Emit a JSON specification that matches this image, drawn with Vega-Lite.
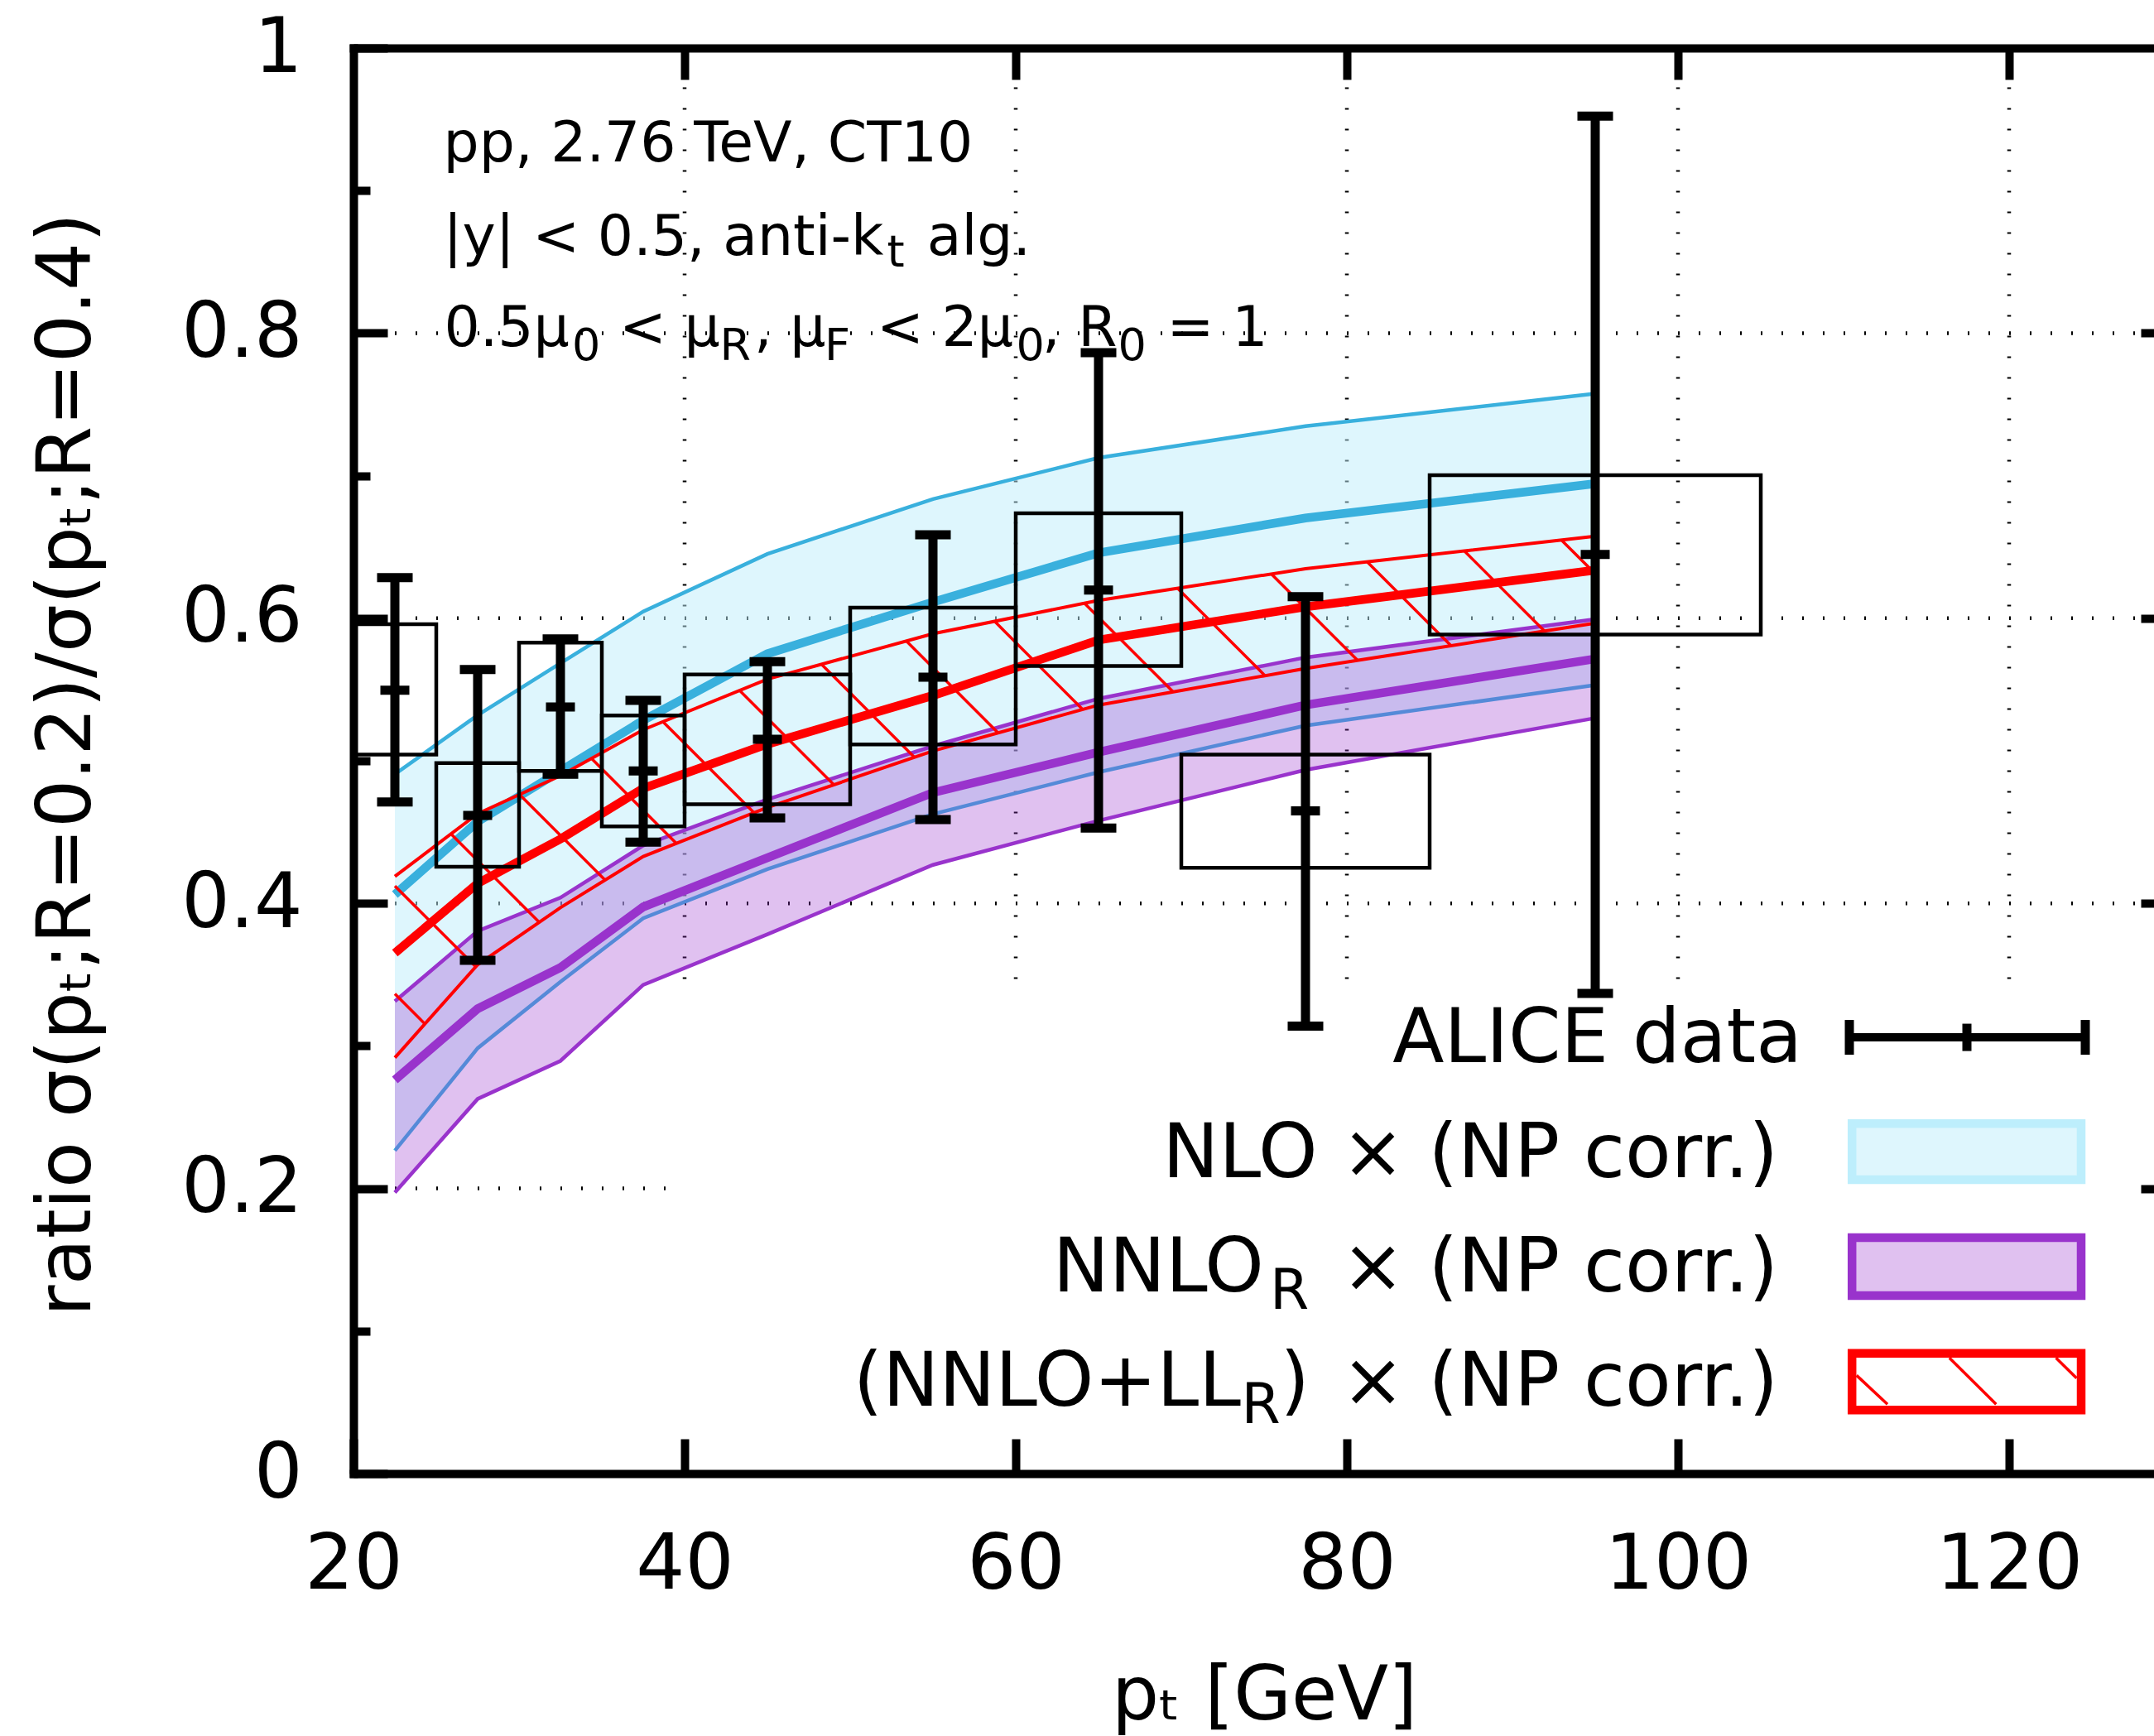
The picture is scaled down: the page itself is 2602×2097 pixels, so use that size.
{
  "$schema": "https://vega.github.io/schema/vega-lite/v6.json",
  "autosize": {"type": "none"},
  "padding": {"left": 427, "top": 58, "right": 0, "bottom": 317},
  "width": 2175,
  "height": 1722,
  "background": "white",
  "config": {
    "font": "DejaVu Sans",
    "view": {"stroke": null},
    "axis": {"grid": false, "labelFont": "DejaVu Sans", "titleFont": "DejaVu Sans", "labelColor": "black", "titleColor": "black", "titleFontWeight": "normal", "domainColor": "black", "tickColor": "black"}
  },
  "resolve": {"axis": {"x": "independent", "y": "independent"}},
  "datasets": {
    "theory": [
      {"m": "NLO", "x": 22.5, "hi": 0.4906, "c": 0.4062, "lo": 0.2266},
      {"m": "NLO", "x": 27.5, "hi": 0.532, "c": 0.4573, "lo": 0.2984},
      {"m": "NLO", "x": 32.5, "hi": 0.5684, "c": 0.4929, "lo": 0.345},
      {"m": "NLO", "x": 37.5, "hi": 0.6047, "c": 0.5284, "lo": 0.3895},
      {"m": "NLO", "x": 45, "hi": 0.6451, "c": 0.5751, "lo": 0.424},
      {"m": "NLO", "x": 55, "hi": 0.6836, "c": 0.6114, "lo": 0.4626},
      {"m": "NLO", "x": 65, "hi": 0.7125, "c": 0.6458, "lo": 0.492},
      {"m": "NLO", "x": 77.5, "hi": 0.7347, "c": 0.6703, "lo": 0.5247},
      {"m": "NLO", "x": 95, "hi": 0.7575, "c": 0.6944, "lo": 0.5531},
      {"m": "NNLO", "x": 22.5, "hi": 0.3313, "c": 0.2761, "lo": 0.1972},
      {"m": "NNLO", "x": 27.5, "hi": 0.3806, "c": 0.3261, "lo": 0.2628},
      {"m": "NNLO", "x": 32.5, "hi": 0.404, "c": 0.355, "lo": 0.2895},
      {"m": "NNLO", "x": 37.5, "hi": 0.4406, "c": 0.3975, "lo": 0.3428},
      {"m": "NNLO", "x": 45, "hi": 0.4729, "c": 0.432, "lo": 0.3783},
      {"m": "NNLO", "x": 55, "hi": 0.5103, "c": 0.4777, "lo": 0.427},
      {"m": "NNLO", "x": 65, "hi": 0.5436, "c": 0.506, "lo": 0.458},
      {"m": "NNLO", "x": 77.5, "hi": 0.5725, "c": 0.5391, "lo": 0.4936},
      {"m": "NNLO", "x": 95, "hi": 0.5993, "c": 0.5715, "lo": 0.53},
      {"m": "LL", "x": 22.5, "hi": 0.4189, "c": 0.3651, "lo": 0.2917},
      {"m": "LL", "x": 27.5, "hi": 0.4629, "c": 0.414, "lo": 0.357},
      {"m": "LL", "x": 32.5, "hi": 0.4895, "c": 0.4451, "lo": 0.397},
      {"m": "LL", "x": 37.5, "hi": 0.5218, "c": 0.4807, "lo": 0.4329},
      {"m": "LL", "x": 45, "hi": 0.5573, "c": 0.5117, "lo": 0.4673},
      {"m": "LL", "x": 55, "hi": 0.5891, "c": 0.5458, "lo": 0.5069},
      {"m": "LL", "x": 65, "hi": 0.6125, "c": 0.5847, "lo": 0.5391},
      {"m": "LL", "x": 77.5, "hi": 0.6347, "c": 0.608, "lo": 0.5647},
      {"m": "LL", "x": 95, "hi": 0.6575, "c": 0.6337, "lo": 0.5966}
    ],
    "alice": [
      {"x": 22.5, "xlo": 20, "xhi": 25, "y": 0.5495, "slo": 0.4711, "shi": 0.6285, "blo": 0.5044, "bhi": 0.5958},
      {"x": 27.5, "xlo": 25, "xhi": 30, "y": 0.4617, "slo": 0.36, "shi": 0.564, "blo": 0.4257, "bhi": 0.4984},
      {"x": 32.5, "xlo": 30, "xhi": 35, "y": 0.5378, "slo": 0.4906, "shi": 0.5855, "blo": 0.4929, "bhi": 0.5829},
      {"x": 37.5, "xlo": 35, "xhi": 40, "y": 0.4929, "slo": 0.4429, "shi": 0.5424, "blo": 0.454, "bhi": 0.5318},
      {"x": 45, "xlo": 40, "xhi": 50, "y": 0.5151, "slo": 0.46, "shi": 0.5695, "blo": 0.4695, "bhi": 0.5606},
      {"x": 55, "xlo": 50, "xhi": 60, "y": 0.5587, "slo": 0.4588, "shi": 0.6585, "blo": 0.5114, "bhi": 0.6074},
      {"x": 65, "xlo": 60, "xhi": 70, "y": 0.6198, "slo": 0.4528, "shi": 0.7863, "blo": 0.5665, "bhi": 0.6736},
      {"x": 77.5, "xlo": 70, "xhi": 85, "y": 0.4648, "slo": 0.3139, "shi": 0.6152, "blo": 0.425, "bhi": 0.5044},
      {"x": 95, "xlo": 85, "xhi": 105, "y": 0.6448, "slo": 0.3368, "shi": 0.9522, "blo": 0.5886, "bhi": 0.7004}
    ],
    "hatch": [
      {"x": 22.5, "y": 0.3365, "x2": 24.315, "y2": 0.3154},
      {"x": 22.5, "y": 0.4122, "x2": 27.385, "y2": 0.3555},
      {"x": 25.887, "y": 0.4487, "x2": 31.22, "y2": 0.3868},
      {"x": 30.03, "y": 0.4764, "x2": 35.195, "y2": 0.4164},
      {"x": 34.38, "y": 0.5016, "x2": 39.5, "y2": 0.4421},
      {"x": 38.69, "y": 0.5274, "x2": 44.19, "y2": 0.4635},
      {"x": 43.32, "y": 0.5494, "x2": 49.02, "y2": 0.4832},
      {"x": 48.27, "y": 0.5677, "x2": 53.88, "y2": 0.5025},
      {"x": 53.39, "y": 0.584, "x2": 58.935, "y2": 0.5196},
      {"x": 58.725, "y": 0.5978, "x2": 64.045, "y2": 0.536},
      {"x": 64.155, "y": 0.6105, "x2": 69.51, "y2": 0.5483},
      {"x": 69.78, "y": 0.621, "x2": 75.055, "y2": 0.5597},
      {"x": 75.435, "y": 0.6311, "x2": 80.655, "y2": 0.5704},
      {"x": 81.23, "y": 0.6395, "x2": 86.295, "y2": 0.5807},
      {"x": 87.095, "y": 0.6472, "x2": 91.935, "y2": 0.591},
      {"x": 92.965, "y": 0.6548, "x2": 95, "y2": 0.6312},
      {"x": 110.785, "y": 0.0689, "x2": 112.65, "y2": 0.0486},
      {"x": 116.39, "y": 0.0811, "x2": 119.215, "y2": 0.0486},
      {"x": 122.83, "y": 0.0811, "x2": 124.075, "y2": 0.0669}
    ],
    "texts": [
      {"t": "pp, 2.76 TeV, CT10", "x": 25.43, "y": 0.9207, "k": "ann"},
      {"t": "|y| < 0.5, anti-k", "x": 25.43, "y": 0.8548, "k": "ann"},
      {"t": "t", "x": 52.22, "y": 0.8467, "k": "sub"},
      {"t": "alg.", "x": 54.64, "y": 0.8548, "k": "ann"},
      {"t": "0.5μ", "x": 25.47, "y": 0.7911, "k": "ann"},
      {"t": "0", "x": 33.2, "y": 0.7808, "k": "sub"},
      {"t": "< μ", "x": 36.05, "y": 0.7911, "k": "ann"},
      {"t": "R", "x": 42.13, "y": 0.7808, "k": "sub"},
      {"t": ", μ", "x": 44.2, "y": 0.7911, "k": "ann"},
      {"t": "F", "x": 48.45, "y": 0.7808, "k": "sub"},
      {"t": "< 2μ", "x": 51.6, "y": 0.7911, "k": "ann"},
      {"t": "0", "x": 60.03, "y": 0.7808, "k": "sub"},
      {"t": ", R", "x": 61.6, "y": 0.7911, "k": "ann"},
      {"t": "0", "x": 66.18, "y": 0.7808, "k": "sub"},
      {"t": "= 1", "x": 69.13, "y": 0.7911, "k": "ann"},
      {"t": "ALICE data", "x": 107.5, "y": 0.2884, "k": "leg"},
      {"t": "NLO × (NP corr.)", "x": 106.05, "y": 0.208, "k": "leg"},
      {"t": "× (NP corr.)", "x": 106.05, "y": 0.1279, "k": "leg"},
      {"t": "NNLO", "x": 75.0, "y": 0.1279, "k": "leg"},
      {"t": "R", "x": 75.35, "y": 0.1155, "k": "legsub"},
      {"t": "× (NP corr.)", "x": 106.05, "y": 0.0479, "k": "leg"},
      {"t": ")", "x": 75.97, "y": 0.0479, "k": "legl"},
      {"t": "(NNLO+LL", "x": 73.6, "y": 0.0479, "k": "leg"},
      {"t": "R", "x": 73.63, "y": 0.0355, "k": "legsub"}
    ]
  },
  "layer": [
    {
      "data": {"values": [{"x": 40, "y": 0.347, "y2": 1}, {"x": 60, "y": 0.347, "y2": 1}, {"x": 80, "y": 0.347, "y2": 1}, {"x": 100, "y": 0.347, "y2": 1}, {"x": 120, "y": 0.347, "y2": 1}]},
      "mark": {"type": "rule", "color": "black", "strokeWidth": 4.5, "strokeDash": [2, 23]},
      "encoding": {
        "x": {"field": "x", "type": "quantitative", "scale": {"domain": [20, 128.75], "nice": false, "zero": false},
          "axis": {"orient": "bottom", "values": [20, 40, 60, 80, 100, 120], "format": "d", "domain": true, "domainWidth": 10, "domainCap": "square", "ticks": true, "tickSize": -42, "tickWidth": 10, "labels": true, "labelFontSize": 93, "labelPadding": 180, "labelDx": 15, "labelBaseline": "alphabetic", "labelFlush": false, "labelOverlap": false, "title": "pₜ [GeV]", "titleFontSize": 90, "titleX": 1100, "titleY": 296, "titleBaseline": "alphabetic", "titleAlign": "center"}},
        "y": {"field": "y", "type": "quantitative", "scale": {"domain": [0, 1], "nice": false, "zero": false},
          "axis": {"orient": "left", "values": [0, 0.2, 0.4, 0.6, 0.8, 1], "format": "~g", "domain": true, "domainWidth": 10, "domainCap": "square", "ticks": true, "tickSize": -41, "tickWidth": 10, "labels": true, "labelFontSize": 92, "labelPadding": 103, "labelBaseline": "middle", "labelFlush": false, "labelOverlap": false, "title": "ratio σ(pₜ;R=0.2)/σ(pₜ;R=0.4)", "titleFontSize": 91.5, "titleX": -319, "titleY": 865, "titleAngle": 270, "titleBaseline": "alphabetic", "titleAlign": "center"}},
        "y2": {"field": "y2"}
      }
    },
    {
      "data": {"values": [{"y": 0.8, "x": 20, "x2": 130}, {"y": 0.6, "x": 20, "x2": 130}, {"y": 0.4, "x": 20, "x2": 130}, {"y": 0.2, "x": 20, "x2": 39}]},
      "mark": {"type": "rule", "color": "black", "strokeWidth": 4.5, "strokeDash": [2, 23], "clip": true},
      "encoding": {
        "x": {"field": "x", "type": "quantitative", "scale": {"domain": [20, 128.75], "nice": false, "zero": false},
          "axis": {"orient": "top", "values": [40, 60, 80, 100, 120], "domain": true, "domainWidth": 10, "domainCap": "square", "ticks": true, "tickSize": -38, "tickWidth": 10, "labels": false, "title": null}},
        "x2": {"field": "x2"},
        "y": {"field": "y", "type": "quantitative", "scale": {"domain": [0, 1], "nice": false, "zero": false},
          "axis": {"orient": "left", "values": [0.1, 0.3, 0.5, 0.7, 0.9], "domain": false, "ticks": true, "tickSize": -20, "tickWidth": 10, "labels": false, "title": null}}
      }
    },
    {
      "data": {"name": "theory"},
      "transform": [{"filter": "datum.m == 'NLO'"}],
      "mark": {"type": "area", "color": "#bdeefc", "opacity": 0.5},
      "encoding": {
        "x": {"field": "x", "type": "quantitative", "scale": {"domain": [20, 128.75], "nice": false, "zero": false}, "axis": null},
        "y": {"field": "hi", "type": "quantitative", "scale": {"domain": [0, 1], "nice": false, "zero": false},
          "axis": {"orient": "right", "values": [0.2, 0.4, 0.6, 0.8], "domain": false, "ticks": true, "tickSize": -16, "tickWidth": 10, "labels": false, "title": null}},
        "y2": {"field": "lo"}
      }
    },
    {
      "data": {"name": "theory"},
      "transform": [{"filter": "datum.m == 'NLO'"}, {"fold": ["hi", "lo"], "as": ["e", "v"]}],
      "mark": {"type": "line", "color": "#39b0dd", "strokeWidth": 4.5},
      "encoding": {
        "x": {"field": "x", "type": "quantitative", "scale": {"domain": [20, 128.75], "nice": false, "zero": false}, "axis": null},
        "y": {"field": "v", "type": "quantitative", "scale": {"domain": [0, 1], "nice": false, "zero": false}, "axis": null},
        "detail": {"field": "e"}
      }
    },
    {
      "data": {"name": "theory"},
      "transform": [{"filter": "datum.m == 'NLO'"}],
      "mark": {"type": "line", "color": "#39b0dd", "strokeWidth": 10.5},
      "encoding": {
        "x": {"field": "x", "type": "quantitative", "scale": {"domain": [20, 128.75], "nice": false, "zero": false}, "axis": null},
        "y": {"field": "c", "type": "quantitative", "scale": {"domain": [0, 1], "nice": false, "zero": false}, "axis": null}
      }
    },
    {
      "data": {"name": "theory"},
      "transform": [{"filter": "datum.m == 'NNLO'"}],
      "mark": {"type": "area", "color": "#9933cc", "opacity": 0.3},
      "encoding": {
        "x": {"field": "x", "type": "quantitative", "scale": {"domain": [20, 128.75], "nice": false, "zero": false}, "axis": null},
        "y": {"field": "hi", "type": "quantitative", "scale": {"domain": [0, 1], "nice": false, "zero": false}, "axis": null},
        "y2": {"field": "lo"}
      }
    },
    {
      "data": {"name": "theory"},
      "transform": [{"filter": "datum.m == 'NNLO'"}, {"fold": ["hi", "lo"], "as": ["e", "v"]}],
      "mark": {"type": "line", "color": "#9933cc", "strokeWidth": 4.5},
      "encoding": {
        "x": {"field": "x", "type": "quantitative", "scale": {"domain": [20, 128.75], "nice": false, "zero": false}, "axis": null},
        "y": {"field": "v", "type": "quantitative", "scale": {"domain": [0, 1], "nice": false, "zero": false}, "axis": null},
        "detail": {"field": "e"}
      }
    },
    {
      "data": {"name": "theory"},
      "transform": [{"filter": "datum.m == 'NNLO'"}],
      "mark": {"type": "line", "color": "#9933cc", "strokeWidth": 10.5},
      "encoding": {
        "x": {"field": "x", "type": "quantitative", "scale": {"domain": [20, 128.75], "nice": false, "zero": false}, "axis": null},
        "y": {"field": "c", "type": "quantitative", "scale": {"domain": [0, 1], "nice": false, "zero": false}, "axis": null}
      }
    },
    {
      "data": {"name": "hatch"},
      "mark": {"type": "rule", "color": "#ff0000", "strokeWidth": 3.5},
      "encoding": {
        "x": {"field": "x", "type": "quantitative", "scale": {"domain": [20, 128.75], "nice": false, "zero": false}, "axis": null},
        "x2": {"field": "x2"},
        "y": {"field": "y", "type": "quantitative", "scale": {"domain": [0, 1], "nice": false, "zero": false}, "axis": null},
        "y2": {"field": "y2"}
      }
    },
    {
      "data": {"name": "theory"},
      "transform": [{"filter": "datum.m == 'LL'"}, {"fold": ["hi", "lo"], "as": ["e", "v"]}],
      "mark": {"type": "line", "color": "#ff0000", "strokeWidth": 4},
      "encoding": {
        "x": {"field": "x", "type": "quantitative", "scale": {"domain": [20, 128.75], "nice": false, "zero": false}, "axis": null},
        "y": {"field": "v", "type": "quantitative", "scale": {"domain": [0, 1], "nice": false, "zero": false}, "axis": null},
        "detail": {"field": "e"}
      }
    },
    {
      "data": {"name": "theory"},
      "transform": [{"filter": "datum.m == 'LL'"}],
      "mark": {"type": "line", "color": "#ff0000", "strokeWidth": 10.5},
      "encoding": {
        "x": {"field": "x", "type": "quantitative", "scale": {"domain": [20, 128.75], "nice": false, "zero": false}, "axis": null},
        "y": {"field": "c", "type": "quantitative", "scale": {"domain": [0, 1], "nice": false, "zero": false}, "axis": null}
      }
    },
    {
      "data": {"name": "alice"},
      "mark": {"type": "rect", "filled": false, "color": "black", "strokeWidth": 4.5},
      "encoding": {
        "x": {"field": "xlo", "type": "quantitative", "scale": {"domain": [20, 128.75], "nice": false, "zero": false}, "axis": null},
        "x2": {"field": "xhi"},
        "y": {"field": "blo", "type": "quantitative", "scale": {"domain": [0, 1], "nice": false, "zero": false}, "axis": null},
        "y2": {"field": "bhi"}
      }
    },
    {
      "data": {"name": "alice"},
      "mark": {"type": "rule", "color": "black", "strokeWidth": 11},
      "encoding": {
        "x": {"field": "x", "type": "quantitative", "scale": {"domain": [20, 128.75], "nice": false, "zero": false}, "axis": null},
        "y": {"field": "slo", "type": "quantitative", "scale": {"domain": [0, 1], "nice": false, "zero": false}, "axis": null},
        "y2": {"field": "shi"}
      }
    },
    {
      "data": {"name": "alice"},
      "transform": [{"fold": ["slo", "shi"], "as": ["e", "v"]}],
      "mark": {"type": "tick", "orient": "horizontal", "color": "black", "opacity": 1, "size": 43, "thickness": 11},
      "encoding": {
        "x": {"field": "x", "type": "quantitative", "scale": {"domain": [20, 128.75], "nice": false, "zero": false}, "axis": null},
        "y": {"field": "v", "type": "quantitative", "scale": {"domain": [0, 1], "nice": false, "zero": false}, "axis": null}
      }
    },
    {
      "data": {"name": "alice"},
      "mark": {"type": "tick", "orient": "horizontal", "color": "black", "opacity": 1, "size": 35, "thickness": 11},
      "encoding": {
        "x": {"field": "x", "type": "quantitative", "scale": {"domain": [20, 128.75], "nice": false, "zero": false}, "axis": null},
        "y": {"field": "y", "type": "quantitative", "scale": {"domain": [0, 1], "nice": false, "zero": false}, "axis": null}
      }
    },
    {
      "data": {"values": [{"x": 110.35, "x2": 124.6, "y": 0.306}]},
      "mark": {"type": "rule", "color": "black", "strokeWidth": 10},
      "encoding": {
        "x": {"field": "x", "type": "quantitative", "scale": {"domain": [20, 128.75], "nice": false, "zero": false}, "axis": null},
        "x2": {"field": "x2"},
        "y": {"field": "y", "type": "quantitative", "scale": {"domain": [0, 1], "nice": false, "zero": false}, "axis": null}
      }
    },
    {
      "data": {"values": [{"x": 110.35, "y": 0.306}, {"x": 124.6, "y": 0.306}]},
      "mark": {"type": "tick", "orient": "vertical", "color": "black", "opacity": 1, "size": 42, "thickness": 11},
      "encoding": {
        "x": {"field": "x", "type": "quantitative", "scale": {"domain": [20, 128.75], "nice": false, "zero": false}, "axis": null},
        "y": {"field": "y", "type": "quantitative", "scale": {"domain": [0, 1], "nice": false, "zero": false}, "axis": null}
      }
    },
    {
      "data": {"values": [{"x": 117.45, "y": 0.306}]},
      "mark": {"type": "tick", "orient": "vertical", "color": "black", "opacity": 1, "size": 33, "thickness": 11},
      "encoding": {
        "x": {"field": "x", "type": "quantitative", "scale": {"domain": [20, 128.75], "nice": false, "zero": false}, "axis": null},
        "y": {"field": "y", "type": "quantitative", "scale": {"domain": [0, 1], "nice": false, "zero": false}, "axis": null}
      }
    },
    {
      "data": {"values": [{"x": 110.51, "x2": 124.35, "y": 0.2062, "y2": 0.2455}]},
      "mark": {"type": "rect", "fill": "#bdeefc", "fillOpacity": 0.5, "stroke": "#bdeefc", "strokeWidth": 10.5},
      "encoding": {
        "x": {"field": "x", "type": "quantitative", "scale": {"domain": [20, 128.75], "nice": false, "zero": false}, "axis": null},
        "x2": {"field": "x2"},
        "y": {"field": "y", "type": "quantitative", "scale": {"domain": [0, 1], "nice": false, "zero": false}, "axis": null},
        "y2": {"field": "y2"}
      }
    },
    {
      "data": {"values": [{"x": 110.51, "x2": 124.35, "y": 0.1249, "y2": 0.1655}]},
      "mark": {"type": "rect", "fill": "#9933cc", "fillOpacity": 0.3, "stroke": "#9933cc", "strokeWidth": 10.5},
      "encoding": {
        "x": {"field": "x", "type": "quantitative", "scale": {"domain": [20, 128.75], "nice": false, "zero": false}, "axis": null},
        "x2": {"field": "x2"},
        "y": {"field": "y", "type": "quantitative", "scale": {"domain": [0, 1], "nice": false, "zero": false}, "axis": null},
        "y2": {"field": "y2"}
      }
    },
    {
      "data": {"values": [{"x": 110.51, "x2": 124.35, "y": 0.0445, "y2": 0.0843}]},
      "mark": {"type": "rect", "filled": false, "color": "#ff0000", "strokeWidth": 10.5},
      "encoding": {
        "x": {"field": "x", "type": "quantitative", "scale": {"domain": [20, 128.75], "nice": false, "zero": false}, "axis": null},
        "x2": {"field": "x2"},
        "y": {"field": "y", "type": "quantitative", "scale": {"domain": [0, 1], "nice": false, "zero": false}, "axis": null},
        "y2": {"field": "y2"}
      }
    },
    {
      "data": {"name": "texts"},
      "transform": [{"filter": "datum.k == 'ann'"}],
      "mark": {"type": "text", "align": "left", "baseline": "alphabetic", "fontSize": 68, "font": "DejaVu Sans", "color": "black"},
      "encoding": {
        "x": {"field": "x", "type": "quantitative", "scale": {"domain": [20, 128.75], "nice": false, "zero": false}, "axis": null},
        "y": {"field": "y", "type": "quantitative", "scale": {"domain": [0, 1], "nice": false, "zero": false}, "axis": null},
        "text": {"field": "t"}
      }
    },
    {
      "data": {"name": "texts"},
      "transform": [{"filter": "datum.k == 'sub'"}],
      "mark": {"type": "text", "align": "left", "baseline": "alphabetic", "fontSize": 54, "font": "DejaVu Sans", "color": "black"},
      "encoding": {
        "x": {"field": "x", "type": "quantitative", "scale": {"domain": [20, 128.75], "nice": false, "zero": false}, "axis": null},
        "y": {"field": "y", "type": "quantitative", "scale": {"domain": [0, 1], "nice": false, "zero": false}, "axis": null},
        "text": {"field": "t"}
      }
    },
    {
      "data": {"name": "texts"},
      "transform": [{"filter": "datum.k == 'leg'"}],
      "mark": {"type": "text", "align": "right", "baseline": "alphabetic", "fontSize": 91, "font": "DejaVu Sans", "color": "black"},
      "encoding": {
        "x": {"field": "x", "type": "quantitative", "scale": {"domain": [20, 128.75], "nice": false, "zero": false}, "axis": null},
        "y": {"field": "y", "type": "quantitative", "scale": {"domain": [0, 1], "nice": false, "zero": false}, "axis": null},
        "text": {"field": "t"}
      }
    },
    {
      "data": {"name": "texts"},
      "transform": [{"filter": "datum.k == 'legl'"}],
      "mark": {"type": "text", "align": "left", "baseline": "alphabetic", "fontSize": 91, "font": "DejaVu Sans", "color": "black"},
      "encoding": {
        "x": {"field": "x", "type": "quantitative", "scale": {"domain": [20, 128.75], "nice": false, "zero": false}, "axis": null},
        "y": {"field": "y", "type": "quantitative", "scale": {"domain": [0, 1], "nice": false, "zero": false}, "axis": null},
        "text": {"field": "t"}
      }
    },
    {
      "data": {"name": "texts"},
      "transform": [{"filter": "datum.k == 'legsub'"}],
      "mark": {"type": "text", "align": "left", "baseline": "alphabetic", "fontSize": 68, "font": "DejaVu Sans", "color": "black"},
      "encoding": {
        "x": {"field": "x", "type": "quantitative", "scale": {"domain": [20, 128.75], "nice": false, "zero": false}, "axis": null},
        "y": {"field": "y", "type": "quantitative", "scale": {"domain": [0, 1], "nice": false, "zero": false}, "axis": null},
        "text": {"field": "t"}
      }
    }
  ]
}
